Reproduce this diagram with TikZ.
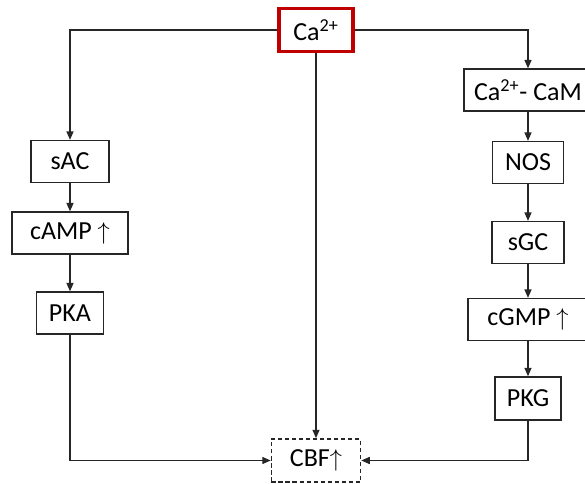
\documentclass[tikz,border=0pt]{standalone}
\usepackage{fontspec}
\setmainfont{Carlito}
\usepackage{xcolor}
\usetikzlibrary{arrows.meta,positioning}
\definecolor{caRed}{RGB}{192,0,0}

\begin{document}
\begin{tikzpicture}[
  x=0.025cm, y=-0.025cm,
  box/.style={rectangle, draw=black!85, line width=0.9pt, fill=white,
              align=center, font=\fontsize{18.5}{22}\selectfont, inner sep=2pt,
              minimum height=1.05cm},
  cabox/.style={box, draw=caRed, line width=2.2pt, minimum height=1.08cm},
  cbfbox/.style={box, dash pattern=on 3pt off 2pt, line width=1pt},
  arr/.style={-{Triangle[length=6pt,width=5pt]}, line width=0.9pt, draw=black!85},
]
\useasboundingbox (0,0) rectangle (585,484);

%% Top — calcium
\node[cabox, minimum width=1.85cm] (ca) at (316, 30) {Ca\textsuperscript{2+}};

%% Left branch — cAMP pathway
\node[box, minimum width=1.95cm] (sac)  at (70, 161.5) {sAC};
\node[box, minimum width=2.9cm]  (camp) at (70, 233)   {cAMP $\uparrow$};
\node[box, minimum width=1.68cm] (pka)  at (70, 313)   {PKA};

%% Right branch — cGMP pathway
\node[box, minimum width=3.2cm]  (cam)  at (528, 90)    {Ca\textsuperscript{2+}- CaM};
\node[box, minimum width=1.78cm] (nos)  at (528, 162.5) {NOS};
\node[box, minimum width=1.8cm]  (sgc)  at (528, 242.5) {sGC};
\node[box, minimum width=3.0cm]  (cgmp) at (528, 319.5) {cGMP $\uparrow$};
\node[box, minimum width=1.65cm, minimum height=1.08cm] (pkg) at (528, 398.5) {PKG};

%% Bottom — outcome
\node[cbfbox, minimum width=2.23cm, minimum height=1.08cm] (cbf) at (316, 460.5)
  {CBF$\uparrow$};

%% ── Arrows ─────────────────────────────────────────────
\draw[arr] (ca.west) -| (sac.north);
\draw[arr] (ca.east) -| (cam.north);
\draw[arr] (ca.south) -- (cbf.north);

\draw[arr] (sac) -- (camp);
\draw[arr] (camp) -- (pka);
\draw[arr] (pka.south) |- (cbf.west);

\draw[arr] (cam) -- (nos);
\draw[arr] (nos) -- (sgc);
\draw[arr] (sgc) -- (cgmp);
\draw[arr] (cgmp) -- (pkg);
\draw[arr] (pkg.south) |- (cbf.east);

\end{tikzpicture}
\end{document}
